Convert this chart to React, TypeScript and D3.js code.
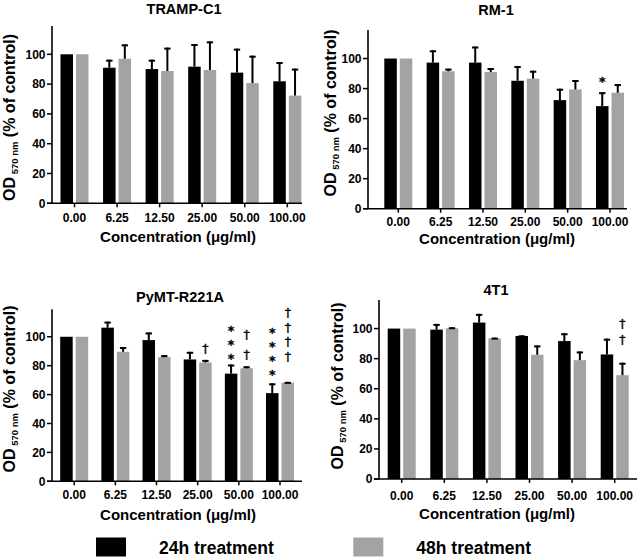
import React from "react";
import * as d3 from "d3";

const categories = ["0.00", "6.25", "12.50", "25.00", "50.00", "100.00"];
const yTicks = [0, 20, 40, 60, 80, 100];
const seriesNames = ["24h treatment", "48h treatment"];
const seriesColors = ["#000000", "#a3a3a3"];

const trampMean24 = [100, 91, 90.1, 91.7, 87.7, 81.9];
const trampSd24 = [0, 5.4, 6.3, 15.2, 16.1, 12.9];
const trampMean48 = [100, 97, 88.8, 89.5, 80.7, 72.3];
const trampSd48 = [0, 9.7, 15.7, 19.2, 18.4, 18.1];

const rmMean24 = [100, 97.3, 97.3, 85.2, 72.3, 68.3];
const rmSd24 = [0, 8.2, 10.7, 9.8, 7.6, 9.3];
const rmMean48 = [100, 91.5, 91, 86.6, 79.4, 77.2];
const rmSd48 = [0, 1.8, 2.7, 5.3, 6.3, 5.8];

const pymtMean24 = [100, 106.3, 97.7, 84.3, 74.5, 61];
const pymtSd24 = [0, 4.2, 5.3, 5.3, 6.3, 6.8];
const pymtMean48 = [100, 89.6, 85.9, 82.2, 78.2, 68.2];
const pymtSd48 = [0, 3.3, 1.4, 1.8, 1.4, 0.6];

const t41Mean24 = [100, 99.3, 104, 95.1, 91.7, 82.8];
const t41Sd24 = [0, 3.8, 5.8, 0.4, 5.2, 10.5];
const t41Mean48 = [100, 100.2, 93.5, 82.6, 79, 69];
const t41Sd48 = [0, 0.7, 0.5, 6.2, 5.8, 8.3];

// significance marks: group index, series index, symbol, value positions (data units)
const rmMarks = [{ g: 5, s: 0, sym: "*", at: [86.8] }];
const pymtMarks = [
  { g: 3, s: 1, sym: "†", at: [91.4] },
  { g: 4, s: 0, sym: "*", at: [86.6, 96.4, 106.2] },
  { g: 4, s: 1, sym: "†", at: [86.8, 100.5] },
  { g: 5, s: 0, sym: "*", at: [75.8, 85.6, 95.4, 105.2] },
  { g: 5, s: 1, sym: "†", at: [85.9, 96.1, 105.8, 116.2] },
];
const t41Marks = [{ g: 5, s: 1, sym: "†", at: [91.7, 102.9] }];

const Y_MAX = 119;
const FONT = "'Liberation Sans', Arial, Helvetica, sans-serif";
const SYM_FONT = "'DejaVu Sans', sans-serif";

type Mark = { g: number; s: number; sym: string; at: number[] };
type PanelDef = {
  title: string;
  means: number[][];
  sds: number[][];
  marks: Mark[];
  L: {
    axisX: number; axisEnd: number; c0: number; c5: number; top: number; bottom: number;
    titleX: number; titleY: number; xLabelX: number; xLabelY: number;
    yLabelX: number; yLabelY: number; tickY: number;
  };
};

const panels: PanelDef[] = [
  {
    title: "TRAMP-C1",
    means: [trampMean24, trampMean48],
    sds: [trampSd24, trampSd48],
    marks: [],
    L: { axisX: 52, axisEnd: 302, c0: 74.5, c5: 287.3, top: 26, bottom: 203.3, titleX: 184, titleY: 14.2, xLabelX: 178, xLabelY: 242, yLabelX: 15, yLabelY: 117.5, tickY: 222.3 },
  },
  {
    title: "RM-1",
    means: [rmMean24, rmMean48],
    sds: [rmSd24, rmSd48],
    marks: rmMarks,
    L: { axisX: 368, axisEnd: 627, c0: 398.3, c5: 610, top: 30, bottom: 208.7, titleX: 496, titleY: 15.2, xLabelX: 497, xLabelY: 243.5, yLabelX: 336, yLabelY: 113, tickY: 226 },
  },
  {
    title: "PyMT-R221A",
    means: [pymtMean24, pymtMean48],
    sds: [pymtSd24, pymtSd48],
    marks: pymtMarks,
    L: { axisX: 52, axisEnd: 302, c0: 74.2, c5: 280, top: 309.3, bottom: 481.3, titleX: 180, titleY: 301.9, xLabelX: 178, xLabelY: 520.4, yLabelX: 15, yLabelY: 389, tickY: 499.3 },
  },
  {
    title: "4T1",
    means: [t41Mean24, t41Mean48],
    sds: [t41Sd24, t41Sd48],
    marks: t41Marks,
    L: { axisX: 379, axisEnd: 637, c0: 401.7, c5: 614.7, top: 300, bottom: 479, titleX: 496, titleY: 294.5, xLabelX: 497, xLabelY: 518.7, yLabelX: 343, yLabelY: 386, tickY: 500.3 },
  },
];

const BAR_W = 12.5;
const BAR_GAP = 3;

function Panel({ p }: { p: PanelDef }) {
  const L = p.L;
  const x = d3.scalePoint<string>().domain(categories).range([L.c0, L.c5]);
  const y = d3.scaleLinear().domain([0, Y_MAX]).range([L.bottom, L.top]);
  const off = (s: number) => (s === 0 ? -(BAR_W + BAR_GAP) / 2 : (BAR_W + BAR_GAP) / 2);

  return (
    <g fontFamily={FONT}>
      <text x={L.titleX} y={L.titleY} textAnchor="middle" fontSize={14.5} fontWeight="bold">{p.title}</text>
      {/* bars */}
      {p.means.map((arr, s) =>
        arr.map((v, i) => {
          const cx = (x(categories[i]) as number) + off(s);
          return (
            <rect key={`b${s}-${i}`} x={cx - BAR_W / 2} y={y(v)} width={BAR_W} height={y(0) - y(v)} fill={seriesColors[s]} />
          );
        })
      )}
      {/* error bars */}
      {p.means.map((arr, s) =>
        arr.map((v, i) => {
          const sd = p.sds[s][i];
          if (!sd) return null;
          const cx = (x(categories[i]) as number) + off(s);
          return (
            <g key={`e${s}-${i}`} stroke="#000">
              <line x1={cx} x2={cx} y1={y(v)} y2={y(v + sd)} strokeWidth={2} />
              <line x1={cx - 3.2} x2={cx + 3.2} y1={y(v + sd) + 1} y2={y(v + sd) + 1} strokeWidth={2} />
            </g>
          );
        })
      )}
      {/* significance marks */}
      {p.marks.map((m, k) => {
        const cx = (x(categories[m.g]) as number) + off(m.s);
        const isStar = m.sym === "*";
        return (
          <text
            key={`m${k}`}
            textAnchor="middle"
            fontSize={12.5}
            fontWeight={isStar ? "bold" : "normal"}
            fontFamily={SYM_FONT}
            fill="#000"
            stroke="#000"
            strokeWidth={0.35}
            opacity={0.999}
          >
            {m.at.map((v, j) => (
              <tspan key={j} x={cx} y={y(v) + (isStar ? 7.3 : 3.4)}>{m.sym}</tspan>
            ))}
          </text>
        );
      })}
      {/* y axis */}
      <line x1={L.axisX} x2={L.axisX} y1={L.top} y2={L.bottom} stroke="#000" strokeWidth={1.6} />
      {yTicks.map((t) => (
        <g key={`yt${t}`}>
          <line x1={L.axisX - 5} x2={L.axisX} y1={y(t)} y2={y(t)} stroke="#000" strokeWidth={1.5} />
          <text x={L.axisX - 6.5} y={y(t) + 4.3} textAnchor="end" fontSize={12} fontWeight="bold">{t}</text>
        </g>
      ))}
      {/* x axis */}
      <line x1={L.axisX - 5} x2={L.axisEnd} y1={L.bottom} y2={L.bottom} stroke="#000" strokeWidth={1.6} />
      {categories.map((c) => (
        <g key={`xt${c}`}>
          <line x1={x(c)} x2={x(c)} y1={L.bottom} y2={L.bottom + 4} stroke="#000" strokeWidth={1.5} />
          <text x={x(c)} y={L.tickY} textAnchor="middle" fontSize={12} fontWeight="bold">{c}</text>
        </g>
      ))}
      <text x={L.xLabelX} y={L.xLabelY} textAnchor="middle" fontSize={15} fontWeight="bold">Concentration (μg/ml)</text>
      <text transform={`translate(${L.yLabelX},${L.yLabelY}) rotate(-90)`} textAnchor="middle" fontWeight="bold" fontSize={16}>
        <tspan>OD</tspan>
        <tspan fontSize={9.5} dy={3}> 570 nm</tspan>
        <tspan fontSize={16} dy={-3}> (% of control)</tspan>
      </text>
    </g>
  );
}

export default function App() {
  const legendX = [96, 353.3];
  return (
    <svg width={638} height={558} style={{ position: "absolute", left: 0, top: 0, background: "#fff" }}>
      <rect width={638} height={558} fill="#fff" />
      {panels.map((p) => (
        <Panel key={p.title} p={p} />
      ))}
      <g fontFamily={FONT}>
        {seriesNames.map((n, i) => (
          <g key={n}>
            <rect x={legendX[i]} y={537.5} width={30} height={19} fill={seriesColors[i]} />
            <text x={legendX[i] + 63} y={553.5} fontSize={17.5} fontWeight="bold">{n}</text>
          </g>
        ))}
      </g>
    </svg>
  );
}
